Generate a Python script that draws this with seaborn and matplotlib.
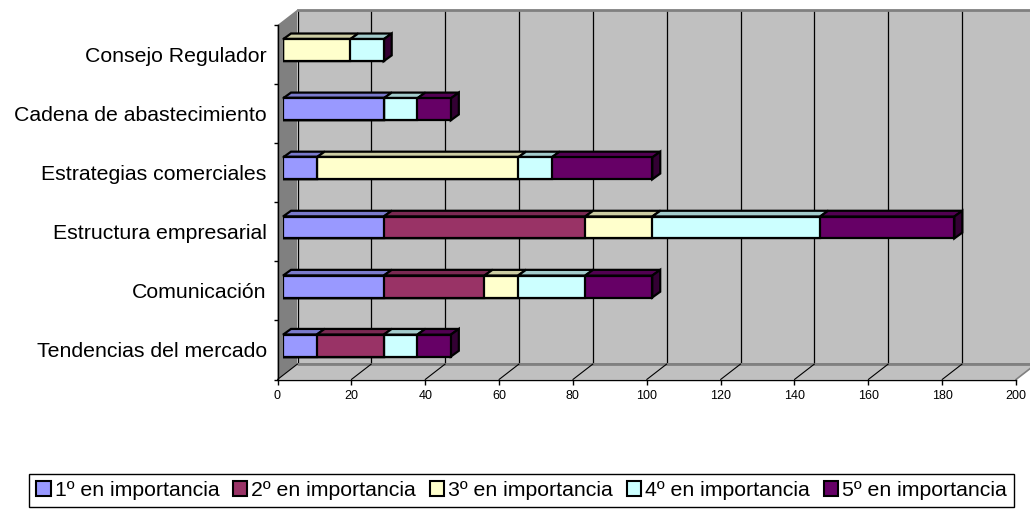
import numpy as np
import pandas as pd
import matplotlib
matplotlib.use("Agg")
import matplotlib.pyplot as plt
import seaborn as sns
from matplotlib.patches import Polygon, Patch
from matplotlib.lines import Line2D

# ---------------- data ----------------
categories = ["Consejo Regulador", "Cadena de abastecimiento", "Estrategias comerciales",
              "Estructura empresarial", "Comunicación", "Tendencias del mercado"]
series_names = ["1º en importancia", "2º en importancia", "3º en importancia",
                "4º en importancia", "5º en importancia"]
imp1 = [0, 27.27, 9.09, 27.27, 27.27, 9.09]
imp2 = [0, 0, 0, 54.55, 27.27, 18.18]
imp3 = [18.18, 0, 54.55, 18.18, 9.09, 0]
imp4 = [9.09, 9.09, 9.09, 45.45, 18.18, 9.09]
imp5 = [0, 9.09, 27.27, 36.36, 18.18, 9.09]
x_ticks = [0, 20, 40, 60, 80, 100, 120, 140, 160, 180, 200]

front_colors = ["#9999FF", "#993366", "#FFFFCC", "#CCFFFF", "#660066"]
top_colors = ["#7A7ACC", "#7A2952", "#CCCCA3", "#A3CCCC", "#520052"]
side_color = "#330033"

# ---------------- setup ----------------
sns.set_theme(style="white")
plt.rcParams["font.family"] = ["Liberation Sans", "DejaVu Sans"]

W, H = 1030, 509
fig = plt.figure(figsize=(W / 100, H / 100), dpi=100, facecolor="white")


def rect(left, top, right, bottom):
    return [left / W, 1 - bottom / H, (right - left) / W, (bottom - top) / H]


FX0, FX1, FY0, FY1 = 277.5, 1016.0, 25.0, 379.5
BACK = (20.0, -15.5)
BAR = (5.5, -4.3)
DEPTH = (8.0, -5.8)
ux = 200.0 / (FX1 - FX0)
uy = 6.0 / (FY1 - FY0)
XMAX = x_ticks[-1]
NCAT = len(categories)

# back wall
ax_back = fig.add_axes(rect(FX0 + BACK[0], FY0 + BACK[1], FX1 + BACK[0], FY1 + BACK[1]), zorder=0)
ax_back.set_facecolor("#C0C0C0")
ax_back.set_xlim(0, XMAX)
ax_back.set_ylim(NCAT - 0.5, -0.5)
ax_back.set_xticks(x_ticks)
ax_back.set_yticks([])
ax_back.tick_params(axis="x", length=0, labelbottom=False)
ax_back.grid(axis="x", color="black", linewidth=0.9)
for s in ["left", "right"]:
    ax_back.spines[s].set_visible(False)
for s in ["top", "bottom"]:
    ax_back.spines[s].set_color("#808080")
    ax_back.spines[s].set_linewidth(2)

# front axes (ticks, labels, side wall, floor)
ax = fig.add_axes(rect(FX0, FY0, FX1, FY1), zorder=2)
ax.set_facecolor("none")
ax.set_xlim(0, XMAX)
ax.set_ylim(NCAT - 0.5, -0.5)
dxb, dyb = BACK[0] * ux, BACK[1] * uy
ybase = NCAT - 0.5
ax.add_patch(Polygon([(0, -0.5), (dxb, -0.5 + dyb), (dxb, ybase + dyb), (0, ybase)],
                     closed=True, facecolor="#808080", edgecolor="none", clip_on=False, zorder=0.5))
ax.add_patch(Polygon([(0, ybase), (dxb, ybase + dyb), (XMAX + dxb, ybase + dyb), (XMAX, ybase)],
                     closed=True, facecolor="#C0C0C0", edgecolor="none", clip_on=False, zorder=0.6))
ax.add_line(Line2D([dxb, XMAX + dxb], [ybase + dyb, ybase + dyb], color="#808080",
                   linewidth=2, clip_on=False, zorder=0.7))
ax.add_line(Line2D([XMAX, XMAX + dxb], [ybase, ybase + dyb], color="#808080",
                   linewidth=1.2, clip_on=False, zorder=0.7))
for v in x_ticks[:-1]:
    ax.add_line(Line2D([v, v + dxb], [ybase, ybase + dyb], color="black",
                       linewidth=0.8, clip_on=False, zorder=0.8))

ax.set_yticks(range(NCAT))
ax.set_yticklabels(categories, fontsize=15.3, color="black")
ax.set_yticks([i - 0.5 for i in range(NCAT + 1)], minor=True)
ax.tick_params(axis="y", which="major", length=0, pad=7.8)
ax.tick_params(axis="y", which="minor", length=3.2, width=1, color="black", direction="out", left=True)
ax.set_xticks(x_ticks)
ax.set_xticklabels([str(t) for t in x_ticks], fontsize=9, color="black")
ax.tick_params(axis="x", which="major", length=3.6, width=1, color="black", direction="out",
               bottom=True, pad=4)
for s in ["top", "right"]:
    ax.spines[s].set_visible(False)
for s in ["left", "bottom"]:
    ax.spines[s].set_color("black")
    ax.spines[s].set_linewidth(1)

# bars plane
ax_bar = fig.add_axes(rect(FX0 + BAR[0], FY0 + BAR[1], FX1 + BAR[0], FY1 + BAR[1]), zorder=3)
ax_bar.set_facecolor("none")
vals = np.array([imp1, imp2, imp3, imp4, imp5])
cum = np.cumsum(vals, axis=0)
BW = 0.37
for i in reversed(range(len(series_names))):
    sns.barplot(x=cum[i], y=categories, order=categories, orient="h", color=front_colors[i],
                saturation=1, width=BW, edgecolor="black", linewidth=1.6, errorbar=None, ax=ax_bar)

ddx, ddy = DEPTH[0] * ux, DEPTH[1] * uy
for j in range(NCAT):
    yt = j - BW / 2
    yb = j + BW / 2
    for i in range(len(series_names)):
        v = vals[i][j]
        if v <= 0:
            continue
        end = cum[i][j]
        start = end - v
        ax_bar.add_patch(Polygon([(start, yt), (end, yt), (end + ddx, yt + ddy), (start + ddx, yt + ddy)],
                                 closed=True, facecolor=top_colors[i], edgecolor="black",
                                 linewidth=1.6, clip_on=False, zorder=0.5))
    T = cum[-1][j]
    ax_bar.add_patch(Polygon([(T, yt), (T + ddx, yt + ddy), (T + ddx, yb + ddy), (T, yb)],
                             closed=True, facecolor=side_color, edgecolor="black",
                             linewidth=1.6, clip_on=False, zorder=0.5))
ax_bar.set_xlim(0, XMAX)
ax_bar.set_ylim(NCAT - 0.5, -0.5)
ax_bar.axis("off")

# legend
handles = [Patch(facecolor=c, edgecolor="black", linewidth=1.5, label=n)
           for c, n in zip(front_colors, series_names)]
leg = fig.legend(handles=handles, loc="center", bbox_to_anchor=(521.5 / W, 1 - 490.5 / H),
                 ncol=5, fontsize=15.3, frameon=True, fancybox=False, edgecolor="black",
                 framealpha=1, handlelength=0.66, handleheight=0.66, handletextpad=0.19,
                 columnspacing=0.66, borderpad=0.33, borderaxespad=0)
leg.get_frame().set_linewidth(1.0)
for t in leg.get_texts():
    t.set_color("black")

fig.savefig("out.png", dpi=100, facecolor="white")
